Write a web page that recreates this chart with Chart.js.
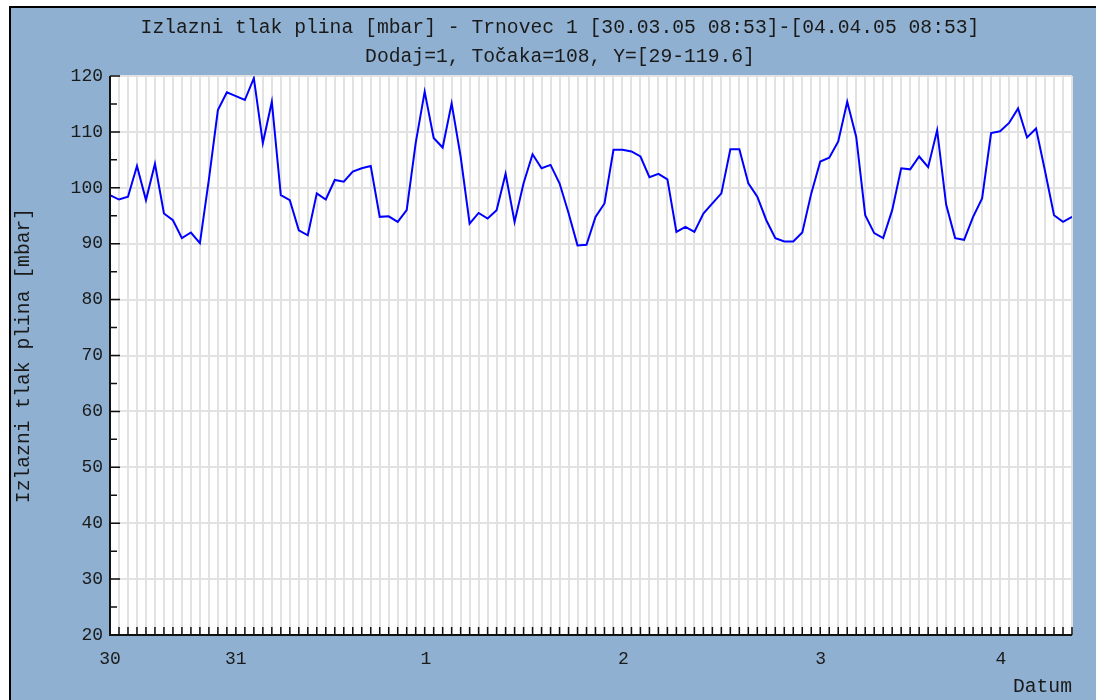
<!DOCTYPE html>
<html lang="hr">
<head>
<meta charset="utf-8">
<title>Izlazni tlak plina - Trnovec 1</title>
<script src="https://cdn.jsdelivr.net/npm/chart.js@4.4.0/dist/chart.umd.min.js"></script>
<style>
    html, body { margin: 0; padding: 0; background: #fff; }
    canvas { display: block; }
</style>
</head>
<body>
<canvas id="tlakChart" width="1096" height="700"></canvas>
<script>
const naslov = [
    'Izlazni tlak plina [mbar] - Trnovec 1 [30.03.05 08:53]-[04.04.05 08:53]',
    'Dodaj=1, Točaka=108, Y=[29-119.6]'
];

// 108 mjerenja, ocitano sa slike
const vrijednosti = [
    98.7, 97.9, 98.4, 103.9, 97.8, 104.3, 95.4, 94.2, 91.0, 92.0,
    90.1, 101.5, 113.9, 117.1, 116.4, 115.7, 119.6, 108.0, 115.4, 98.7,
    97.8, 92.4, 91.5, 99.0, 97.9, 101.4, 101.1, 102.9, 103.5, 103.9,
    94.8, 94.9, 93.9, 96.0, 108.0, 117.2, 108.9, 107.2, 115.1, 105.6,
    93.6, 95.5, 94.5, 96.0, 102.5, 93.9, 100.8, 106.0, 103.5, 104.1,
    100.8, 95.5, 89.7, 89.8, 94.8, 97.2, 106.8, 106.8, 106.5, 105.6,
    101.9, 102.5, 101.5, 92.1, 93.0, 92.1, 95.4, 97.2, 99.0, 106.9,
    106.9, 100.8, 98.4, 94.2, 91.0, 90.4, 90.4, 92.0, 99.0, 104.7,
    105.4, 108.3, 115.4, 109.1, 95.1, 91.9, 91.0, 96.0, 103.5, 103.3,
    105.6, 103.7, 110.3, 97.0, 91.0, 90.7, 94.8, 98.1, 109.8, 110.1,
    111.6, 114.2, 109.0, 110.6, 103.0, 95.1, 93.9, 94.8
];

const daniOznake = ['30', '31', '1', '2', '3', '4'];
const daniPozicije = [0, 14, 35.15, 57.1, 79.05, 99.1];

const yMin = 20;
const yMax = 120;
const yKorak = 10;

const PLAVA = '#8fb0d0';
const TEKST = '#1a1a1a';
const MREZA = '#e2e2e2';
const FONT = '"Liberation Mono", monospace';

const okvirPlugin = {
    id: 'okvir',
    beforeDraw(chart) {
        const ctx = chart.ctx;
        const a = chart.chartArea;
        ctx.save();
        ctx.fillStyle = '#fff';
        ctx.fillRect(0, 0, chart.width, chart.height);
        ctx.fillStyle = PLAVA;
        ctx.fillRect(11, 8, chart.width - 11, chart.height - 8);
        ctx.fillStyle = '#000';
        ctx.fillRect(9, 6, chart.width - 9, 2);
        ctx.fillRect(9, 6, 2, chart.height - 6);
        ctx.fillStyle = '#fff';
        ctx.fillRect(a.left, a.top, a.right - a.left, a.bottom - a.top);

        ctx.fillStyle = TEKST;
        ctx.font = '19.7px ' + FONT;
        ctx.textAlign = 'center';
        ctx.textBaseline = 'middle';
        ctx.fillText(naslov[0], 560, 28);
        ctx.fillText(naslov[1], 560, 57);
        ctx.restore();
    },
    afterDraw(chart) {
        const ctx = chart.ctx;
        const a = chart.chartArea;
        const sx = chart.scales.x;
        const sy = chart.scales.y;
        ctx.save();
        ctx.strokeStyle = '#111';
        ctx.lineWidth = 2;
        ctx.beginPath();
        ctx.moveTo(a.left, a.top);
        ctx.lineTo(a.left, a.bottom);
        ctx.lineTo(a.right, a.bottom);
        ctx.stroke();

        ctx.lineWidth = 1.5;
        ctx.beginPath();
        for (let v = yMin; v <= yMax; v += yKorak / 2) {
            const py = sy.getPixelForValue(v);
            const len = v % yKorak === 0 ? 10 : 7;
            ctx.moveTo(a.left, py);
            ctx.lineTo(a.left + len, py);
        }
        for (let i = 0; i < vrijednosti.length; i++) {
            const px = sx.getPixelForValue(i);
            ctx.moveTo(px, a.bottom);
            ctx.lineTo(px, a.bottom - 8);
        }
        ctx.stroke();
        ctx.restore();
    }
};

document.addEventListener('DOMContentLoaded', function () {
    const ctx = document.getElementById('tlakChart').getContext('2d');

    new Chart(ctx, {
        type: 'line',
        data: {
            datasets: [{
                label: 'Izlazni tlak plina [mbar]',
                data: vrijednosti.map((v, i) => ({ x: i, y: v })),
                borderColor: '#0000ff',
                borderWidth: 2,
                pointRadius: 0,
                tension: 0,
                fill: false
            }]
        },
        options: {
            responsive: false,
            animation: false,
            layout: { padding: { top: 76, right: 24, left: 0, bottom: 0 } },
            plugins: {
                legend: { display: false },
                tooltip: { enabled: false }
            },
            scales: {
                x: {
                    type: 'linear',
                    position: 'bottom',
                    min: 0,
                    max: vrijednosti.length - 1,
                    afterBuildTicks(s) { s.ticks = vrijednosti.map((v, i) => ({ value: i })); },
                    ticks: { display: false, autoSkip: false },
                    grid: { color: MREZA, lineWidth: 2, drawTicks: false },
                    border: { display: false },
                    afterFit(s) { s.height = 0; }
                },
                dani: {
                    type: 'linear',
                    axis: 'x',
                    position: 'bottom',
                    min: 0,
                    max: vrijednosti.length - 1,
                    afterBuildTicks(s) { s.ticks = daniPozicije.map(v => ({ value: v })); },
                    ticks: {
                        autoSkip: false,
                        maxRotation: 0,
                        padding: 13,
                        color: TEKST,
                        font: { family: FONT, size: 18 },
                        callback: (v, i) => daniOznake[i]
                    },
                    grid: { display: false, drawTicks: false },
                    border: { display: false },
                    title: {
                        display: true,
                        text: 'Datum',
                        align: 'end',
                        color: TEKST,
                        font: { family: FONT, size: 19.7 },
                        padding: { top: 0, bottom: 1 }
                    },
                    afterFit(s) { s.height = 65; }
                },
                y: {
                    min: yMin,
                    max: yMax,
                    ticks: {
                        stepSize: yKorak,
                        padding: 7,
                        color: TEKST,
                        font: { family: FONT, size: 18 }
                    },
                    grid: { color: MREZA, lineWidth: 2, drawTicks: false },
                    border: { display: false },
                    title: {
                        display: true,
                        text: 'Izlazni tlak plina [mbar]',
                        color: TEKST,
                        font: { family: FONT, size: 19.7 },
                        padding: { top: 12, bottom: 0 }
                    },
                    afterFit(s) { s.width = 110; }
                }
            }
        },
        plugins: [okvirPlugin]
    });
});
</script>
</body>
</html>
